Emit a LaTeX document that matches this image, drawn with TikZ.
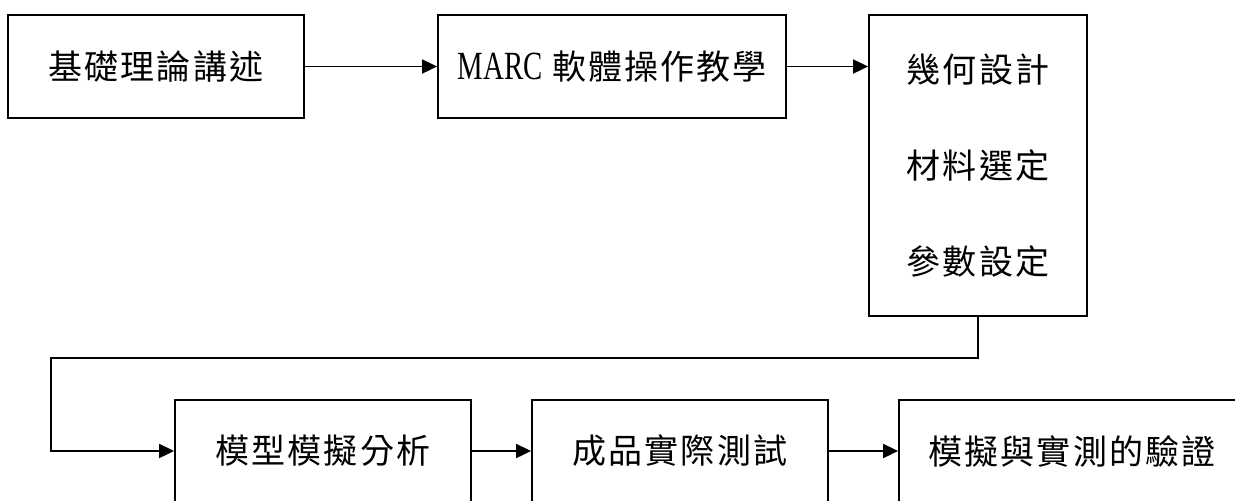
\documentclass[tikz,border=0pt]{standalone}
\usepackage{fontspec}
\setmainfont{Noto Sans CJK TC}[LetterSpace=6]
\newfontfamily\latinfont{Liberation Serif}
\usetikzlibrary{arrows.meta}
\tikzset{
  stagebox/.style={draw, line width=0.9pt, inner sep=0pt, align=center,
    font=\fontsize{17}{48}\selectfont},
  flowarrow/.style={line width=0.9pt, -{Triangle[length=7.5pt,width=7pt]}}
}
\begin{document}
\begin{tikzpicture}[x=0.5pt, y=-0.5pt]
            \useasboundingbox (0,0) rectangle (1235,500);
            % top row
            \node [stagebox, minimum width=148pt, minimum height=51.5pt] (basic) at (156,66.5) {基礎理論講述};
            \node [stagebox, minimum width=174pt, minimum height=51.5pt] (marc) at (612,66.5) {{\latinfont\scalebox{0.72}[1]{\fontsize{20}{20}\selectfont MARC}} 軟體操作教學};
            \node [stagebox, minimum width=109pt, minimum height=150.5pt] (setup) at (978,165.5) {幾何設計\\材料選定\\參數設定};
            % bottom row
            \node [stagebox, minimum width=148pt, minimum height=51pt] (model) at (323,451) {模型模擬分析};
            \node [stagebox, minimum width=148pt, minimum height=51pt] (test) at (680,451) {成品實際測試};
            \node [stagebox, minimum width=173pt, minimum height=51pt] (verify) at (1072,451) {模擬與實測的驗證};
            \coordinate (turn) at (51,358);
            \draw [flowarrow] (basic) -- (marc);
            \draw [flowarrow] (marc) -- (setup.west |- marc);
            \draw [flowarrow] (setup.south) |- (turn) |- (model.west);
            \draw [flowarrow] (model) -- (test);
            \draw [flowarrow] (test) -- (verify);
        \end{tikzpicture}
\end{document}
